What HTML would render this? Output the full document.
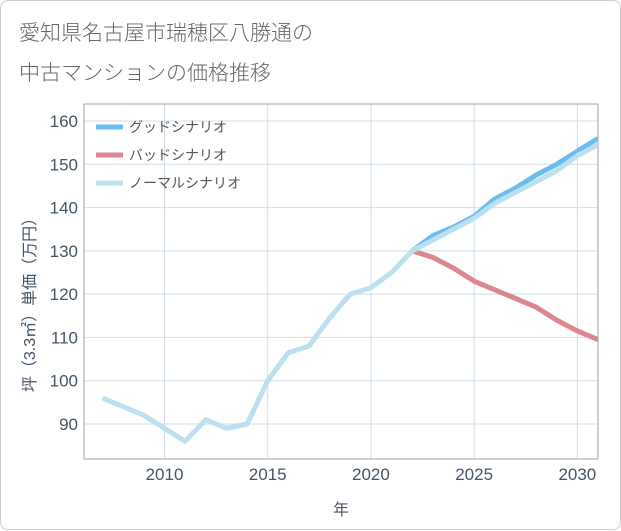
<!DOCTYPE html>
<html><head><meta charset="utf-8"><style>
body{margin:0;background:#fff;font-family:"Liberation Sans","Noto Sans CJK JP",sans-serif}
#card{position:absolute;left:0;top:0;width:619px;height:528px;border:1px solid #ccc;border-radius:8px;background:#fff}
.title{position:absolute;left:18px;font-size:21px;color:#666;font-weight:300}
</style></head><body>
<div id="card">
<div class="title" style="top:16px">愛知県名古屋市瑞穂区八勝通の</div>
<div class="title" style="top:56px">中古マンションの価格推移</div>
<svg id="chart" width="621" height="530" style="position:absolute;left:0;top:0"></svg>
</div>
<script>
const years=[2007,2008,2009,2010,2011,2012,2013,2014,2015,2016,2017,2018,2019,2020,2021,2022,2023,2024,2025,2026,2027,2028,2029,2030,2031];
const normal=[96,94,92,89,86,91,89,90,100,106.5,108,114.5,120,121.5,125,130,132.5,135,137.5,141,143.5,146,148.5,152,154.5];
const goodYears=[2022,2023,2024,2025,2026,2027,2028,2029,2030,2031];
const good=[130,133.5,135.5,138,142,144.5,147.5,150,153,156];
const bad=[130,128.5,126,123,121,119,117,114,111.5,109.5];
const xTicks=[2010,2015,2020,2025,2030];
const yTicks=[90,100,110,120,130,140,150,160];
const L=83,R=597,T=103,B=458;
const x=v=>L+(v-2006.1)*(R-L)/(2031-2006.1);
const y=v=>423+(90-v)*(423-120)/70;
const svg=document.getElementById('chart');const NS='http://www.w3.org/2000/svg';
function mk(t,a,p){const e=document.createElementNS(NS,t);for(const k in a)e.setAttribute(k,a[k]);(p||svg).appendChild(e);return e;}
const grid=mk('g',{});


xTicks.forEach(v=>{mk('line',{x1:x(v),x2:x(v),y1:T,y2:B,stroke:'#cfdde8'},grid);
const t=mk('text',{x:x(v),y:479,'text-anchor':'middle','font-size':17,fill:'#445566'});t.textContent=v;

});
yTicks.forEach(v=>{mk('line',{x1:L,x2:R,y1:y(v),y2:y(v),stroke:'#cfdde8'},grid);
const t=mk('text',{x:77,y:y(v)+6,'text-anchor':'end','font-size':17,fill:'#445566'});t.textContent=v;

});
const fr=mk('rect',{x:L,y:T,width:R-L,height:B-T,fill:'none',stroke:'#99a3ad'});


const xt=mk('text',{x:340,y:514,'text-anchor':'middle','font-size':16,fill:'#445566'});xt.textContent='年';


const yt=mk('text',{x:0,y:0,transform:'translate(34,300) rotate(-90)','text-anchor':'middle','font-size':16,fill:'#445566'});yt.textContent='坪（3.3㎡）単価（万円）';


const cp=mk('clipPath',{id:'c'});mk('rect',{x:L,y:T,width:R-L,height:B-T},cp);
function line(xs,ys,col,name){const p=mk('polyline',{points:xs.map((v,i)=>x(v)+','+y(ys[i])).join(' '),fill:'none',stroke:col,'stroke-width':5,'stroke-linejoin':'round','clip-path':'url(#c)'});

}
line(goodYears,good,'#6bbcf0','good-scenario-line');
line(goodYears,bad,'#dc8690','bad-scenario-line');
line(years,normal,'#bde0ee','normal-scenario-line');
[['グッドシナリオ','#6bbcf0'],['バッドシナリオ','#dc8690'],['ノーマルシナリオ','#bde0ee']].forEach((d,i)=>{
const g=mk('g',{});


const yy=126+i*28;mk('line',{x1:95,x2:122,y1:yy,y2:yy,stroke:d[1],'stroke-width':5},g);
const t=mk('text',{x:128,y:yy+5,'font-size':14,fill:'#555'},g);t.textContent=d[0];});
</script>
</body></html>
